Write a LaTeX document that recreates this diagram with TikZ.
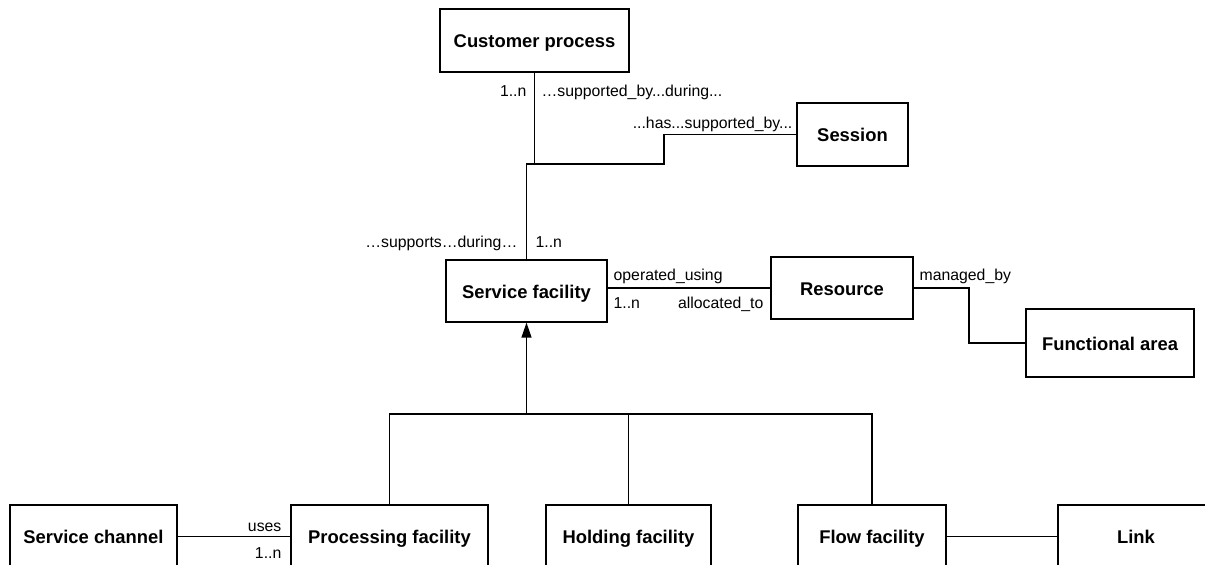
\documentclass[tikz,border=0pt]{standalone}
\usepackage{fontspec}
\setmainfont{Liberation Sans}
\usetikzlibrary{arrows.meta, positioning}

\begin{document}
\begin{tikzpicture}[x=0.5pt, y=-0.5pt, line width=0.65pt,
  box/.style={draw, inner sep=0pt, minimum height=31.5pt, text height=0.72em, text depth=0pt,
    font=\fontsize{9.2}{11}\selectfont\bfseries},
  lbl/.style={inner sep=0pt, text height=0.72em, text depth=0pt, font=\fontsize{7.9}{9.5}\selectfont}]
  % Frame
  \useasboundingbox (0,0) rectangle (1205,565);
  \clip (0,0) rectangle (1205,565);

  % Upper boxes
  \node[box, minimum width=94.5pt] (cp) at (534.5,40.5) {Customer process};
  \node[box, minimum width=55.5pt] (ses) at (852.5,134.5) {Session};
  \node[box, minimum width=80.5pt, minimum height=31pt] (sf) at (526.5,291) {Service facility};
  \node[box, minimum width=71pt, minimum height=31pt] (res) at (842,288) {Resource};
  \node[box, minimum width=84pt, minimum height=34pt] (fa) at (1110,343) {Functional area};

  % Lower boxes (cut by the frame)
  \node[box, minimum width=83.5pt] (sc) at (93.5,536.5) {Service channel};
  \node[box, minimum width=98.5pt] (pf) at (389.5,536.5) {Processing facility};
  \node[box, minimum width=82.5pt] (hf) at (628.5,536.5) {Holding facility};
  \node[box, minimum width=74pt] (ff) at (872,536.5) {Flow facility};
  \node[box, minimum width=78pt] (lnk) at (1136,536.5) {Link};

  % Bend points
  \coordinate (jn) at (534.5,164);
  \coordinate (sstep) at (664,164);
  \coordinate (fbend) at (969,288);
  \coordinate (bar) at (527,414);

  % Connectors
  \draw (cp.south) -- (jn) -- (sstep) |- (ses.west);
  \draw (jn) -- (sf.north |- jn) -- (sf.north);
  \draw (res.west) -- (res.west -| sf.east);
  \draw (res.east) -- (fbend) |- (fa.west);
  \draw (sc.east) -- (pf.west);
  \draw (ff.east) -- (lnk.west);

  % Generalisation
  \draw[-{Triangle[length=7.5pt, width=5pt]}] (sf.south |- bar) -- (sf.south);
  \draw (pf.north) |- (ff.north |- bar) -- (ff.north);
  \draw (hf.north) -- (hf.north |- bar);

  % Role labels
  \node[lbl, anchor=east] (m1) at (527,89) {1..n};
  \node[lbl, anchor=west] (r1) at (541,89) {…supported\_by...during...};
  \node[lbl, anchor=east] (r2) at (793,121) {...has...supported\_by...};
  \node[lbl, anchor=east] (r3) at (518,240) {…supports…during…};
  \node[lbl, anchor=west] (m2) at (535,240) {1..n};
  \node[lbl, anchor=west] (r4) at (613,273) {operated\_using};
  \node[lbl, anchor=west] (m3) at (613,301) {1..n};
  \node[lbl, anchor=east] (r5) at (764,301) {allocated\_to};
  \node[lbl, anchor=west] (r6) at (919,273) {managed\_by};
  \node[lbl, anchor=east] (r7) at (282,524) {uses};
  \node[lbl, anchor=east] (m4) at (282,551) {1..n};
\end{tikzpicture}
\end{document}
